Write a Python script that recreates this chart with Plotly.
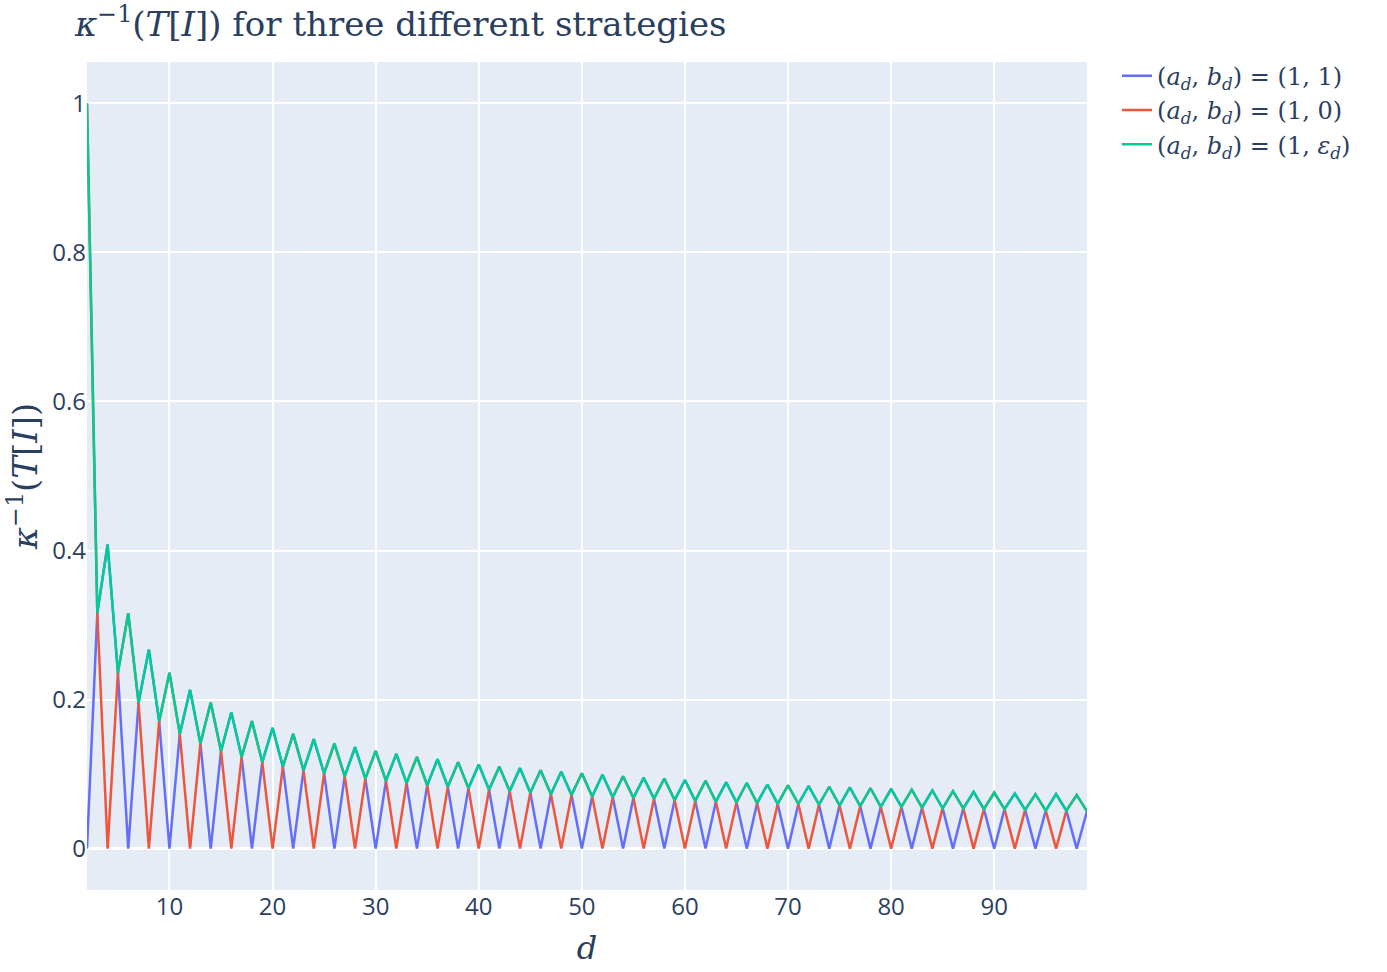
import plotly.graph_objects as go

# dimension d
d_values = list(range(2, 100))

# strategy (a_d, b_d) = (1, 1)
kappa_inv_11 = [
    0.0, 0.316, 0.408, 0.236, 0.0, 0.196, 0.267, 0.171, 0.0, 0.154,
    0.213, 0.141, 0.0, 0.131, 0.183, 0.123, 0.0, 0.116, 0.162, 0.110,
    0.0, 0.105, 0.147, 0.101, 0.0, 0.097, 0.136, 0.094, 0.0, 0.091,
    0.127, 0.088, 0.0, 0.085, 0.120, 0.083, 0.0, 0.081, 0.113, 0.079,
    0.0, 0.077, 0.108, 0.075, 0.0, 0.073, 0.103, 0.072, 0.0, 0.070,
    0.099, 0.069, 0.0, 0.068, 0.095, 0.067, 0.0, 0.065, 0.092, 0.064,
    0.0, 0.063, 0.089, 0.062, 0.0, 0.061, 0.086, 0.060, 0.0, 0.060,
    0.084, 0.059, 0.0, 0.058, 0.082, 0.057, 0.0, 0.056, 0.080, 0.056,
    0.0, 0.055, 0.078, 0.054, 0.0, 0.054, 0.076, 0.053, 0.0, 0.053,
    0.074, 0.052, 0.0, 0.051, 0.073, 0.051, 0.0, 0.050,
]

# strategy (a_d, b_d) = (1, 0)
kappa_inv_10 = [
    1.0, 0.316, 0.0, 0.236, 0.316, 0.196, 0.0, 0.171, 0.236, 0.154,
    0.0, 0.141, 0.196, 0.131, 0.0, 0.123, 0.171, 0.116, 0.0, 0.110,
    0.154, 0.105, 0.0, 0.101, 0.141, 0.097, 0.0, 0.094, 0.131, 0.091,
    0.0, 0.088, 0.123, 0.085, 0.0, 0.083, 0.116, 0.081, 0.0, 0.079,
    0.110, 0.077, 0.0, 0.075, 0.105, 0.073, 0.0, 0.072, 0.101, 0.070,
    0.0, 0.069, 0.097, 0.068, 0.0, 0.067, 0.094, 0.065, 0.0, 0.064,
    0.091, 0.063, 0.0, 0.062, 0.088, 0.061, 0.0, 0.060, 0.085, 0.060,
    0.0, 0.059, 0.083, 0.058, 0.0, 0.057, 0.081, 0.056, 0.0, 0.056,
    0.079, 0.055, 0.0, 0.054, 0.077, 0.054, 0.0, 0.053, 0.075, 0.053,
    0.0, 0.052, 0.073, 0.051, 0.0, 0.051, 0.072, 0.050,
]

# strategy (a_d, b_d) = (1, eps_d)
kappa_inv_1eps = [
    1.0, 0.316, 0.408, 0.236, 0.316, 0.196, 0.267, 0.171, 0.236, 0.154,
    0.213, 0.141, 0.196, 0.131, 0.183, 0.123, 0.171, 0.116, 0.162, 0.110,
    0.154, 0.105, 0.147, 0.101, 0.141, 0.097, 0.136, 0.094, 0.131, 0.091,
    0.127, 0.088, 0.123, 0.085, 0.120, 0.083, 0.116, 0.081, 0.113, 0.079,
    0.110, 0.077, 0.108, 0.075, 0.105, 0.073, 0.103, 0.072, 0.101, 0.070,
    0.099, 0.069, 0.097, 0.068, 0.095, 0.067, 0.094, 0.065, 0.092, 0.064,
    0.091, 0.063, 0.089, 0.062, 0.088, 0.061, 0.086, 0.060, 0.085, 0.060,
    0.084, 0.059, 0.083, 0.058, 0.082, 0.057, 0.081, 0.056, 0.080, 0.056,
    0.079, 0.055, 0.078, 0.054, 0.077, 0.054, 0.076, 0.053, 0.075, 0.053,
    0.074, 0.052, 0.073, 0.051, 0.073, 0.051, 0.072, 0.050,
]

series_names = [
    "(<i>a<sub>d</sub></i>, <i>b<sub>d</sub></i>) = (1, 1)",
    "(<i>a<sub>d</sub></i>, <i>b<sub>d</sub></i>) = (1, 0)",
    "(<i>a<sub>d</sub></i>, <i>b<sub>d</sub></i>) = (1, <i>ε<sub>d</sub></i>)",
]
series_colors = ["#636efa", "#EF553B", "#00cc96"]

serif = "DejaVu Serif, Liberation Serif, serif"

fig = go.Figure()
for name, ys, color in zip(series_names, [kappa_inv_11, kappa_inv_10, kappa_inv_1eps], series_colors):
    fig.add_trace(go.Scatter(
        x=d_values, y=ys, mode="lines", name=name,
        line=dict(color=color, width=2.5),
    ))

fig.update_layout(
    template="plotly",
    width=1387, height=972,
    margin=dict(l=87, r=300, t=62, b=82),
    title=dict(
        text="<i>κ</i><sup>−1</sup>(<i>T</i>[<i>I</i>]) for three different strategies",
        x=0.054, xanchor="left", y=0.975, yanchor="middle",
        font=dict(family=serif, size=34, color="#2a3f5f"),
    ),
    legend=dict(
        x=1.03, y=1.01, xanchor="left", yanchor="top",
        font=dict(family=serif, size=24, color="#2a3f5f"),
        itemwidth=30, tracegroupgap=0,
    ),
    font=dict(family="Open Sans, sans-serif", size=24, color="#2a3f5f"),
)

fig.update_xaxes(
    title=dict(text="<i>d</i>", font=dict(family=serif, size=32)),
    dtick=10, tickfont=dict(size=24), gridwidth=1.5,
)
fig.update_yaxes(
    title=dict(text="<i>κ</i><sup>−1</sup>(<i>T</i>[<i>I</i>])", font=dict(family=serif, size=34), standoff=4),
    dtick=0.2, tickfont=dict(size=24), gridwidth=1.5, zerolinewidth=2.5,
)

fig.write_html("out.html")
